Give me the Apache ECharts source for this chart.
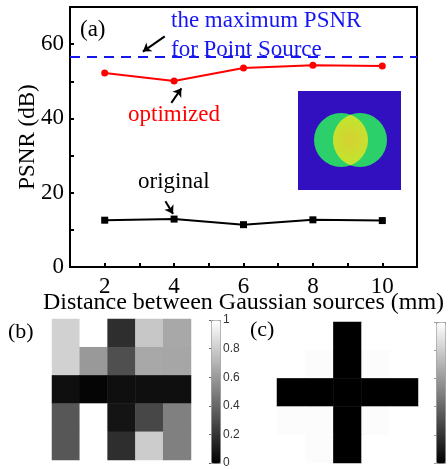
<!DOCTYPE html>
<html>
<head>
<meta charset="utf-8">
<script src="https://cdn.jsdelivr.net/npm/echarts@6/dist/echarts.min.js"></script>
<style>
html, body { margin: 0; padding: 0; background: #fff; }
#main { width: 448px; height: 469px; }
</style>
</head>
<body>
<div id="main"></div>
<script>
// panel (a): PSNR vs source distance
var distances = [2, 4, 6, 8, 10];
var optimized = [52.2, 50.1, 53.6, 54.3, 54.1];
var original = [12.6, 12.9, 11.4, 12.7, 12.5];
var maxPSNR = 56.5;

// panel (b): 5x5 reconstructed mask (row 0 on top)
var maskB = [
    [0.82, 1.00, 0.18, 0.78, 0.66],
    [0.82, 0.60, 0.31, 0.66, 0.65],
    [0.06, 0.02, 0.06, 0.06, 0.06],
    [0.34, 1.00, 0.08, 0.28, 0.50],
    [0.34, 1.00, 0.18, 0.80, 0.50]
];
// panel (c): 5x5 target cross
var maskC = [
    [1.00, 1.00, 0.00, 1.00, 1.00],
    [1.00, 0.99, 0.00, 0.99, 1.00],
    [0.00, 0.00, 0.00, 0.00, 0.00],
    [0.99, 0.99, 0.00, 0.99, 1.00],
    [1.00, 0.99, 0.00, 1.00, 1.00]
];
var cells = ['0', '1', '2', '3', '4'];

function toCells(m) {
    var out = [];
    m.forEach(function(row, r) {
        row.forEach(function(v, c) { out.push([c, r, v]); });
    });
    return out;
}

// overlap region of the two inset circles, as a polygon
function lens(cx1, cx2, cy, r) {
    var pts = [];
    var h = Math.acos((cx2 - cx1) / 2 / r);
    for (var i = 0; i <= 20; i++) {
        var a = -h + 2 * h * i / 20;
        pts.push([cx1 + r * Math.cos(a), cy + r * Math.sin(a)]);
    }
    for (var j = 0; j <= 20; j++) {
        var b = Math.PI - h + 2 * h * j / 20;
        pts.push([cx2 + r * Math.cos(b), cy + r * Math.sin(b)]);
    }
    return pts;
}

var serif = 'Liberation Serif';
var chart = echarts.init(document.getElementById('main'));

option = {
    animation: false,
    grid: [
        {left: 70, top: 7, width: 347, height: 260, show: true, borderColor: '#000', borderWidth: 2},
        {left: 52, top: 319, width: 139, height: 141},
        {left: 277, top: 322, width: 141, height: 141},
        {left: 211, top: 320, width: 9, height: 143},
        {left: 436, top: 322, width: 9, height: 141}
    ],
    xAxis: [
        {
            gridIndex: 0, type: 'value', min: 1, max: 11, interval: 1,
            name: 'Distance between Gaussian sources (mm)',
            nameLocation: 'middle', nameGap: 24, nameMoveOverlap: false,
            nameTextStyle: {fontFamily: serif, fontSize: 24, color: '#000'},
            axisLine: {onZero: false, lineStyle: {color: '#000', width: 2}},
            axisTick: {show: true, inside: true, length: 4, lineStyle: {width: 2}},
            axisLabel: {fontFamily: serif, fontSize: 23, color: '#000', margin: 8,
                formatter: function(v) { return distances.indexOf(v) >= 0 ? v : ''; }},
            splitLine: {show: false}
        },
        {gridIndex: 1, type: 'category', data: cells, show: false},
        {gridIndex: 2, type: 'category', data: cells, show: false},
        {gridIndex: 3, type: 'value', show: false},
        {gridIndex: 4, type: 'value', show: false}
    ],
    yAxis: [
        {
            gridIndex: 0, type: 'value', min: 0, max: 70, interval: 10,
            name: 'PSNR (dB)', nameLocation: 'middle', nameGap: 31, nameRotate: 90, nameMoveOverlap: false,
            nameTextStyle: {fontFamily: serif, fontSize: 23, color: '#000'},
            axisLine: {onZero: false, lineStyle: {color: '#000', width: 2}},
            axisTick: {show: true, inside: true, length: 4, lineStyle: {width: 2}},
            axisLabel: {fontFamily: serif, fontSize: 23, color: '#000', margin: 6,
                formatter: function(v) { return v % 20 === 0 && v < 70 ? v : ''; }},
            splitLine: {show: false}
        },
        {gridIndex: 1, type: 'category', data: cells, inverse: true, show: false},
        {gridIndex: 2, type: 'category', data: cells, inverse: true, show: false},
        {
            gridIndex: 3, type: 'value', min: 0, max: 1, interval: 0.2, position: 'right', z: 10,
            axisLine: {show: false},
            axisTick: {inside: true, length: 2, lineStyle: {color: '#666'}},
            axisLabel: {fontFamily: 'Liberation Sans', fontSize: 12, color: '#333', margin: 3},
            splitLine: {show: false}
        },
        {
            gridIndex: 4, type: 'value', min: 0, max: 1, interval: 0.2, position: 'right', z: 10,
            axisLine: {show: false},
            axisTick: {inside: true, length: 2, lineStyle: {color: '#999'}},
            axisLabel: {show: false},
            splitLine: {show: false}
        }
    ],
    visualMap: [
        {
            type: 'continuous', seriesIndex: 2, min: 0, max: 1, calculable: false,
            left: 211, top: 320, itemWidth: 9, itemHeight: 143, padding: 0,
            borderWidth: 1, borderColor: '#999',
            inRange: {color: ['#000000', '#ffffff']}
        },
        {
            type: 'continuous', seriesIndex: 3, min: 0, max: 1, calculable: false,
            left: 436, top: 322, itemWidth: 9, itemHeight: 141, padding: 0,
            borderWidth: 1, borderColor: '#999',
            inRange: {color: ['#000000', '#ffffff']}
        }
    ],
    graphic: [
        // inset picture of the two overlapping sources
        {type: 'rect', shape: {x: 298, y: 91, width: 103, height: 99}, style: {fill: '#3210bf'}, z: 5},
        {type: 'circle', shape: {cx: 341, cy: 140, r: 27}, style: {fill: '#2cd06a'}, z: 6},
        {type: 'circle', shape: {cx: 360, cy: 140, r: 27}, style: {fill: '#2cd06a'}, z: 6},
        {type: 'polygon', shape: {points: lens(341, 360, 140, 27)},
            style: {fill: new echarts.graphic.RadialGradient(0.5, 0.5, 0.6, [
                {offset: 0, color: '#d8d032'}, {offset: 1, color: '#c2e42e'}])}, z: 7},
        {type: 'text', x: 80, y: 30, z: 10,
            style: {text: '(a)', font: '23px ' + serif, fill: '#000', textVerticalAlign: 'middle'}},
        {type: 'text', x: 171, y: 21, z: 10,
            style: {text: 'the maximum PSNR', font: '23px ' + serif, fill: '#1616f0', textVerticalAlign: 'middle'}},
        {type: 'text', x: 171, y: 50, z: 10,
            style: {text: 'for Point Source', font: '23px ' + serif, fill: '#1616f0', textVerticalAlign: 'middle'}},
        {type: 'text', x: 128, y: 115, z: 10,
            style: {text: 'optimized', font: '23px ' + serif, fill: '#ff0000', textVerticalAlign: 'middle'}},
        {type: 'text', x: 138, y: 182, z: 10,
            style: {text: 'original', font: '23px ' + serif, fill: '#000', textVerticalAlign: 'middle'}},
        {type: 'text', x: 8, y: 332, z: 10,
            style: {text: '(b)', font: '22px ' + serif, fill: '#000', textVerticalAlign: 'middle'}},
        {type: 'text', x: 250, y: 330, z: 10,
            style: {text: '(c)', font: '22px ' + serif, fill: '#000', textVerticalAlign: 'middle'}}
    ],
    series: [
        {
            name: 'optimized', type: 'line', xAxisIndex: 0, yAxisIndex: 0,
            data: distances.map(function(d, i) { return [d, optimized[i]]; }),
            symbol: 'circle', symbolSize: 7,
            lineStyle: {color: '#ff0000', width: 2},
            itemStyle: {color: '#ff0000'},
            markLine: {
                silent: true, symbol: 'none', label: {show: false},
                lineStyle: {color: '#1616f0', width: 2, type: [10, 7]},
                data: [{yAxis: maxPSNR}]
            }
        },
        {
            name: 'original', type: 'line', xAxisIndex: 0, yAxisIndex: 0,
            data: distances.map(function(d, i) { return [d, original[i]]; }),
            symbol: 'rect', symbolSize: 7,
            lineStyle: {color: '#000', width: 2},
            itemStyle: {color: '#000'},
            markLine: {
                silent: true, symbol: ['none', 'arrow'], symbolSize: 8, label: {show: false},
                lineStyle: {color: '#000', width: 2, type: 'solid'},
                data: [
                    [{coord: [3.73, 62.1]}, {coord: [3.10, 58.0]}],
                    [{coord: [3.92, 44.2]}, {coord: [4.21, 48.1]}],
                    [{coord: [3.75, 17.7]}, {coord: [3.97, 14.3]}]
                ]
            }
        },
        {type: 'heatmap', xAxisIndex: 1, yAxisIndex: 1, data: toCells(maskB)},
        {type: 'heatmap', xAxisIndex: 2, yAxisIndex: 2, data: toCells(maskC)}
    ]
};
chart.setOption(option);
</script>
</body>
</html>
